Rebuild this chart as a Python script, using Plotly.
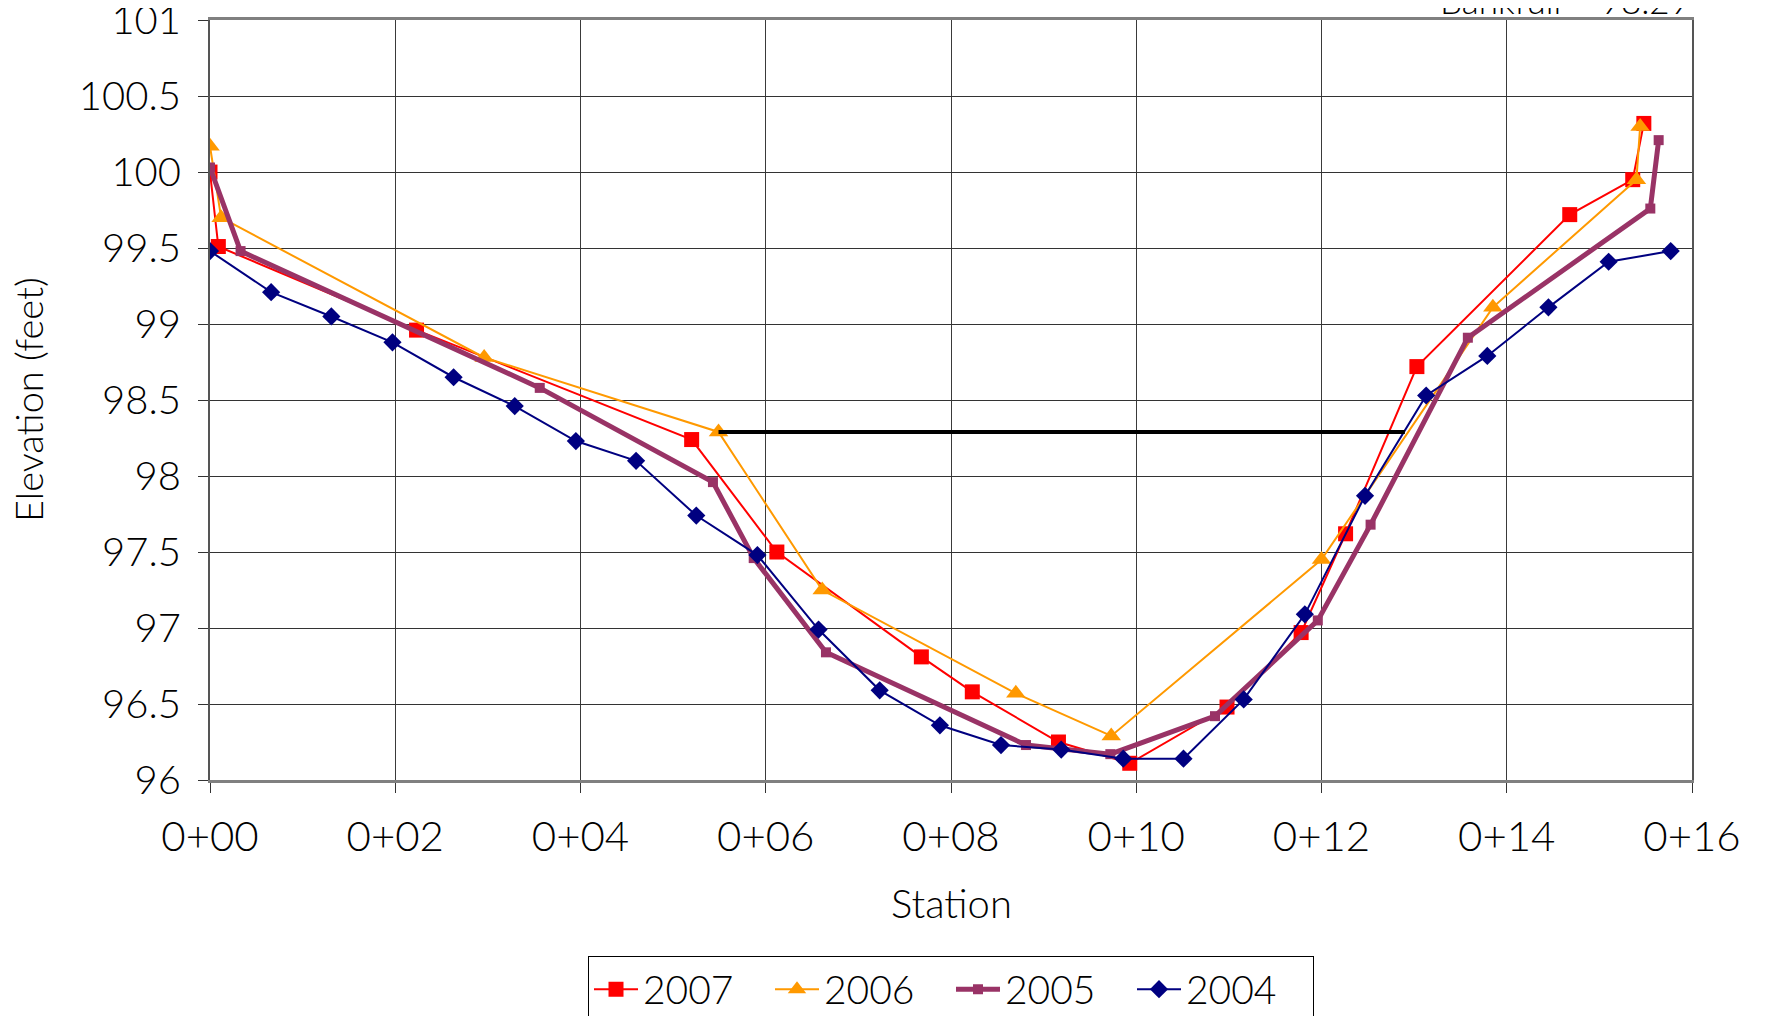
import plotly.graph_objects as go

# ---- data (station in units of 0+01, elevation in feet) ----
st_2007 = [0, 0.09, 2.23, 5.20, 6.12, 7.68, 8.23, 9.16, 9.93, 10.98, 11.78, 12.26, 13.03, 14.68, 15.36, 15.48]
el_2007 = [100.0, 99.51, 98.96, 98.24, 97.50, 96.81, 96.58, 96.25, 96.11, 96.48, 96.97, 97.62, 98.72, 99.72, 99.95, 100.32]

st_2006 = [0, 0.12, 2.96, 5.49, 6.61, 8.70, 9.73, 12.0, 13.85, 15.40, 15.44]
el_2006 = [100.17, 99.70, 98.78, 98.29, 97.25, 96.57, 96.29, 97.45, 99.11, 99.95, 100.30]

st_2005 = [0, 0.33, 3.56, 5.43, 5.87, 6.65, 8.81, 9.72, 10.85, 11.96, 12.53, 13.58, 15.55, 15.64]
el_2005 = [100.03, 99.48, 98.58, 97.96, 97.46, 96.84, 96.23, 96.17, 96.42, 97.05, 97.68, 98.91, 99.76, 100.21]

st_2004 = [0, 0.66, 1.31, 1.97, 2.63, 3.29, 3.95, 4.60, 5.25, 5.91, 6.57, 7.23, 7.88, 8.54, 9.19,
           9.86, 10.51, 11.16, 11.82, 12.47, 13.13, 13.79, 14.45, 15.10, 15.77]
el_2004 = [99.48, 99.21, 99.05, 98.88, 98.65, 98.46, 98.23, 98.10, 97.74, 97.48, 96.99, 96.59, 96.36, 96.23, 96.20,
           96.14, 96.14, 96.53, 97.09, 97.87, 98.53, 98.79, 99.11, 99.41, 99.48]

bankfull_st = [5.49, 12.90]
bankfull_el = [98.29, 98.29]
bankfull_label = "Bankfull = 98.29"

x_tickvals = [0, 2, 4, 6, 8, 10, 12, 14, 16]
x_ticktext = ["0+00", "0+02", "0+04", "0+06", "0+08", "0+10", "0+12", "0+14", "0+16"]
y_tickvals = [96, 96.5, 97, 97.5, 98, 98.5, 99, 99.5, 100, 100.5, 101]
y_ticktext = ["96", "96.5", "97", "97.5", "98", "98.5", "99", "99.5", "100", "100.5", "101"]

FONT = "Lato"
FS = 38


def fnt(size=FS):
    return dict(family=FONT, size=size, color="black", weight=300)


fig = go.Figure()
fig.add_trace(go.Scatter(x=st_2007, y=el_2007, name="2007", mode="lines+markers",
                         line=dict(color="#FF0000", width=2),
                         marker=dict(symbol="square", size=15, color="#FF0000")))
fig.add_trace(go.Scatter(x=st_2006, y=el_2006, name="2006", mode="lines+markers",
                         line=dict(color="#FF9900", width=2),
                         marker=dict(symbol="triangle-up", size=17, color="#FF9900")))
fig.add_trace(go.Scatter(x=st_2005, y=el_2005, name="2005", mode="lines+markers",
                         line=dict(color="#993366", width=5),
                         marker=dict(symbol="square", size=10, color="#993366")))
fig.add_trace(go.Scatter(x=st_2004, y=el_2004, name="2004", mode="lines+markers",
                         line=dict(color="#000080", width=2),
                         marker=dict(symbol="diamond", size=14, color="#000080")))
fig.add_trace(go.Scatter(x=bankfull_st, y=bankfull_el, mode="lines", showlegend=False,
                         line=dict(color="#000000", width=4), hoverinfo="skip"))

# the page body adds an 8px offset at left/top, so the figure is sized to compensate
fig.update_layout(
    width=1761, height=1008,
    margin=dict(l=202, r=77, t=12, b=236, autoexpand=False),
    paper_bgcolor="white", plot_bgcolor="white",
    font=fnt(),
    showlegend=True,
    legend=dict(orientation="h", x=0.5, xanchor="center", y=-0.232, yanchor="top",
                bordercolor="black", borderwidth=1, bgcolor="white",
                font=fnt(39), traceorder="normal", itemwidth=44, entrywidth=122),
    annotations=[
        dict(text="Elevation (feet)", xref="paper", yref="paper", x=-0.1228, y=0.5,
             xanchor="center", yanchor="middle", textangle=-90, showarrow=False,
             font=fnt()),
        dict(text="Station", xref="paper", yref="paper", x=0.5, y=-0.162,
             xanchor="center", yanchor="middle", showarrow=False,
             font=fnt(40)),
        dict(text=bankfull_label, xref="paper", yref="paper", x=1.0, y=1,
             xanchor="right", yanchor="bottom", yshift=-3, showarrow=False,
             font=fnt(35)),
    ],
)

fig.update_xaxes(range=[0, 16], tickvals=x_tickvals, ticktext=x_ticktext,
                 showgrid=True, gridcolor="#3a3a3a", gridwidth=1, zeroline=False,
                 showline=True, linecolor="#808080", linewidth=3, mirror=True,
                 ticks="outside", ticklen=10, tickcolor="#333333", tickwidth=1,
                 ticklabelstandoff=8, tickfont=fnt(42), automargin=False,
                 ticklabeloverflow="allow")
fig.update_yaxes(range=[96, 101.0005], tickvals=y_tickvals, ticktext=y_ticktext,
                 showgrid=True, gridcolor="#333333", gridwidth=1, zeroline=False,
                 showline=True, linecolor="#555555", linewidth=2, mirror=True,
                 ticks="outside", ticklen=10, tickcolor="#333333", tickwidth=1,
                 ticklabelstandoff=9, tickfont=fnt(40), automargin=False,
                 ticklabeloverflow="allow")

fig.write_html("out.html")
